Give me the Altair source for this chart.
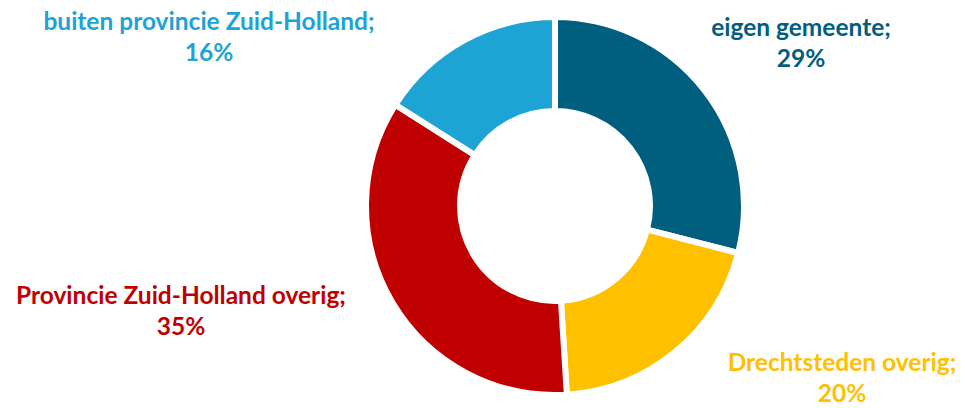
import altair as alt
import pandas as pd

categories = ["eigen gemeente", "Drechtsteden overig", "Provincie Zuid-Holland overig", "buiten provincie Zuid-Holland"]
values = [29, 20, 35, 16]
colors = ["#005E7E", "#FFC000", "#C00000", "#1DA3D4"]

df = pd.DataFrame({"cat": categories, "val": values, "order": list(range(len(categories)))})
df["label"] = [f"{c};\n{v}%" for c, v in zip(categories, values)]

W, H = 949, 400
CX, CY = 547, 198

color_scale = alt.Scale(domain=categories, range=colors)

arcs = alt.Chart(df).mark_arc(
    outerRadius=189, innerRadius=95, stroke="white", strokeWidth=6
).encode(
    theta=alt.Theta("val:Q", stack=True),
    order=alt.Order("order:Q"),
    color=alt.Color("cat:N", scale=color_scale, legend=None),
    x=alt.value(CX), y=alt.value(CY),
)

label_pos = {
    "eigen gemeente": (793, 21),
    "Drechtsteden overig": (834, 356),
    "Provincie Zuid-Holland overig": (173, 289),
    "buiten provincie Zuid-Holland": (201, 15),
}

layers = [arcs]
for c in categories:
    px, py = label_pos[c]
    layers.append(
        alt.Chart(df).transform_filter(alt.datum.cat == c).mark_text(
            font="Lato", fontWeight="bold", fontSize=24.5, lineBreak="\n",
            lineHeight=31, align="center", baseline="middle"
        ).encode(
            text="label:N",
            color=alt.Color("cat:N", scale=color_scale, legend=None),
            x=alt.value(px), y=alt.value(py),
        )
    )

chart = alt.layer(*layers).properties(
    width=W, height=H, padding=0, autosize=alt.AutoSizeParams(type="none")
).configure_view(stroke=None)

chart.save("out.html", embed_options={"renderer": "svg", "actions": False})
